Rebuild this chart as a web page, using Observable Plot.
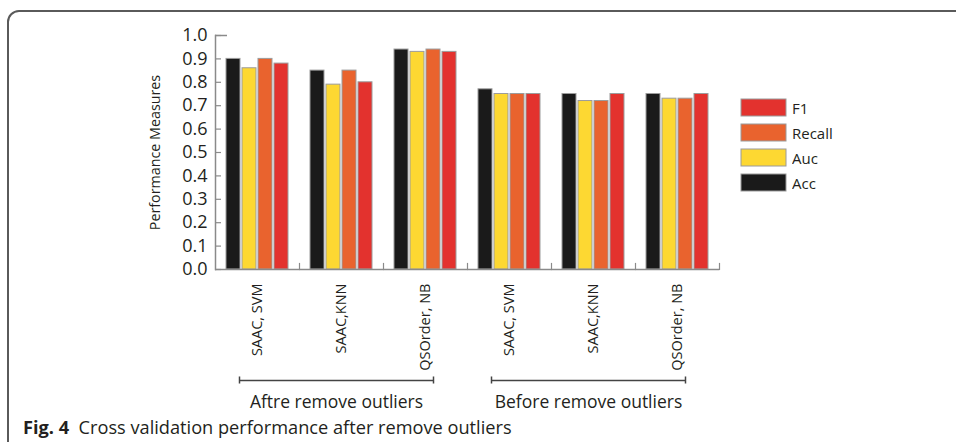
<!DOCTYPE html>
<html><head><meta charset="utf-8">
<script src="https://cdn.jsdelivr.net/npm/d3@7"></script>
<script src="https://cdn.jsdelivr.net/npm/@observablehq/plot@0.6"></script>
<style>
html,body{margin:0;padding:0;background:#fff}
body{width:956px;height:442px;overflow:hidden;position:relative;font-family:"Open Sans",sans-serif;color:#231f20}
#frame{position:absolute;left:7px;top:10px;width:1200px;height:800px;border:2px solid #5a5a5a;border-top-left-radius:12px;box-sizing:border-box}
#chart,#brackets,#legend,#caption{position:absolute}
#chart{left:0;top:0}
#brackets{left:0;top:375px}
#legend{left:741px;top:95px}
#legend > div{font-family:"Open Sans",sans-serif !important;font-size:15px !important;color:#231f20 !important;margin:0 !important}
#legend > div > div{height:25px !important;padding:0 !important;display:flex;align-items:center}
#legend svg{margin-right:6px !important}
#legend svg rect{stroke:#9a9a9a;stroke-width:1}
#caption{left:23px;top:416px;font-size:18.2px;white-space:nowrap;line-height:22px}
</style></head>
<body>
<div id="frame"></div>
<div id="chart"></div>
<div id="brackets"></div>
<div id="legend"></div>
<div id="caption"><b>Fig. 4</b>&nbsp; Cross validation performance after remove outliers</div>
<script>
const FONT = '"Open Sans", sans-serif';
const groups = ["Aftre remove outliers", "Before remove outliers"];
const methods = ["SAAC, SVM", "SAAC,KNN", "QSOrder, NB"];
const metrics = ["Acc", "Auc", "Recall", "F1"];
const metricColors = ["#1a1a1a", "#fdd832", "#e9632e", "#e3322e"];
const legendOrder = ["F1", "Recall", "Auc", "Acc"];
const yTicks = [0.0, 0.1, 0.2, 0.3, 0.4, 0.5, 0.6, 0.7, 0.8, 0.9, 1.0];
// values in category order: After(SVM, KNN, NB), Before(SVM, KNN, NB)
const accValues    = [0.90, 0.85, 0.94, 0.77, 0.75, 0.75];
const aucValues    = [0.86, 0.79, 0.93, 0.75, 0.72, 0.73];
const recallValues = [0.90, 0.85, 0.94, 0.75, 0.72, 0.73];
const f1Values     = [0.88, 0.80, 0.93, 0.75, 0.75, 0.75];

const keys = groups.flatMap(g => methods.map(m => g + "|" + m));
const series = {Acc: accValues, Auc: aucValues, Recall: recallValues, F1: f1Values};
const rows = [];
keys.forEach((k, i) => metrics.forEach(m => rows.push({key: k, metric: m, value: series[m][i]})));
const groupRows = groups.map((g, gi) => {
  const ks = keys.slice(gi * methods.length, (gi + 1) * methods.length);
  return {group: g, first: ks[0], middle: ks[1], last: ks[ks.length - 1]};
});

const W = 956, H = 375, ML = 215, MR = 237, MT = 35, MB = 106;
const AX = "#8a8a8a";

const chart = Plot.plot({
  width: W, height: H,
  marginLeft: ML, marginRight: MR, marginTop: MT, marginBottom: MB,
  style: {fontFamily: FONT, color: "#231f20", background: "transparent", overflow: "visible"},
  fx: {domain: keys, padding: 0, label: null},
  x: {domain: metrics, paddingInner: 0.1, paddingOuter: 0.565, axis: null},
  y: {domain: [0, 1], axis: null},
  color: {domain: metrics, range: metricColors},
  marks: [
    Plot.barY(rows, {fx: "key", x: "metric", y: "value", fill: "metric", stroke: "#9c9c9c", strokeWidth: 1}),
    Plot.ruleY([0], {stroke: AX, strokeWidth: 1.5}),
    Plot.frame({anchor: "left", facetAnchor: "left", stroke: AX, strokeWidth: 1.5}),
    Plot.frame({anchor: "right", insetTop: 228, stroke: AX, strokeWidth: 1.2}),
    Plot.axisY({ticks: yTicks, tickFormat: d3.format(".1f"), tickSize: 0, tickPadding: 8, fontSize: 18, label: null}),
    Plot.axisY({ticks: yTicks, tickSize: -6, text: null, stroke: AX, strokeWidth: 1.2, label: null}),
    Plot.axisY({ticks: [1], tickSize: -12, text: null, stroke: AX, strokeWidth: 1.5, label: null}),
    Plot.text(["Performance Measures"], {frameAnchor: "left", textAnchor: "middle", rotate: -90, dx: -60, facetAnchor: "left", fontSize: 14.3}),
    Plot.axisFx({anchor: "bottom", tickSize: 0, tickPadding: 14, tickRotate: -90, tickFormat: k => k.split("|")[1], fontSize: 14.5, label: null})
  ]
});
document.getElementById("chart").appendChild(chart);

const brackets = Plot.plot({
  width: W, height: 45,
  marginLeft: ML, marginRight: MR, marginTop: 5, marginBottom: 13,
  style: {fontFamily: FONT, color: "#231f20", background: "transparent", overflow: "visible"},
  x: {type: "band", domain: keys, padding: 0, axis: null},
  y: {domain: [0, 1], reverse: true, axis: null},
  marks: [
    Plot.ruleY(groupRows, {x1: "first", x2: "last", y: () => 0, insetLeft: 24, insetRight: 34, stroke: "#444", strokeWidth: 1.5}),
    Plot.ruleX(groupRows, {x: "first", y1: () => -0.13, y2: () => 0.13, dx: -18, stroke: "#444", strokeWidth: 1.5}),
    Plot.ruleX(groupRows, {x: "last", y1: () => -0.13, y2: () => 0.13, dx: 8, stroke: "#444", strokeWidth: 1.5}),
    Plot.text(groupRows, {x: "middle", y: () => 1, text: "group", lineAnchor: "bottom", dx: -5, fontSize: 17.5})
  ]
});
document.getElementById("brackets").appendChild(brackets);

const legend = Plot.legend({
  color: {type: "ordinal", domain: legendOrder, range: legendOrder.map(m => metricColors[metrics.indexOf(m)])},
  legend: "swatches", columns: 1, swatchWidth: 45, swatchHeight: 17,
  style: {fontFamily: FONT, fontSize: "15px"}
});
document.getElementById("legend").appendChild(legend);
</script>
</body></html>
